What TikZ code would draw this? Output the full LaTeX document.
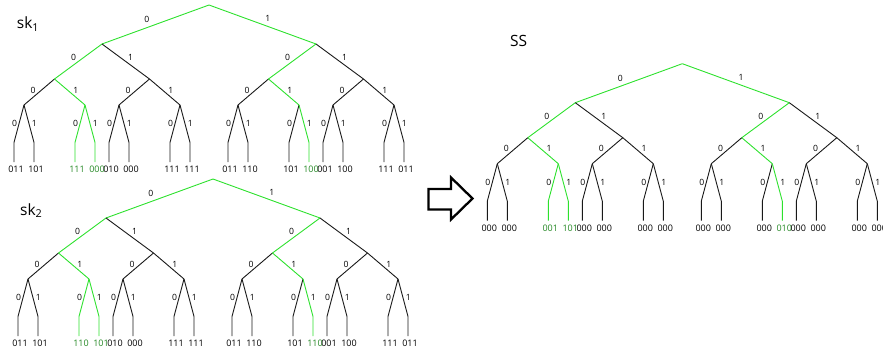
\documentclass[tikz,border=0pt]{standalone}
\usepackage{fontspec}
\setmainfont{Open Sans}
\usetikzlibrary{calc}
\definecolor{gl}{RGB}{45,225,45}
\definecolor{gt}{RGB}{35,135,35}
\definecolor{bl}{RGB}{25,25,25}
\tikzset{
  tl/.style={line width=0.9pt},
  elab/.style={font=\fontsize{8.6}{9}\selectfont,inner sep=1pt,text=black},
  leaflab/.style={font=\fontsize{9}{9}\selectfont,inner sep=0pt},
  title/.style={font=\fontsize{15.5}{18}\selectfont,inner sep=0pt,anchor=base west},
  arrowshape/.style={draw=black,line width=2.3pt,line join=miter},
}
\newcommand\treeframe[2]{%
  \coordinate (#1r) at (#2);
  \coordinate (#1A) at ($(#1r)+(-107,39)$);
  \coordinate (#1B) at ($(#1r)+(107,39)$);
  \coordinate (#1AA) at ($(#1A)+(-47.5,35)$);
  \coordinate (#1AB) at ($(#1A)+(47.5,35)$);
  \coordinate (#1BA) at ($(#1B)+(-47.5,35)$);
  \coordinate (#1BB) at ($(#1B)+(47.5,35)$);
  \foreach \p in {AA,AB,BA,BB}{
    \coordinate (#1\p A) at ($(#1\p)+(-30.5,26)$);
    \coordinate (#1\p B) at ($(#1\p)+(30.5,26)$);
  }
  % level 1
  \draw[tl,draw=gl] (#1r) -- node[elab,above=3.5pt,pos=.58](#1le0){0} (#1A);
  \draw[tl,draw=gl] (#1r) -- node[elab,above=3.5pt,pos=.55](#1le1){1} (#1B);
  % level 2
  \foreach \p/\ca/\cb in {A/gl/bl,B/gl/bl}{
    \draw[tl,draw=\ca] (#1\p) -- node[elab,above=3pt,pos=.6](#1\p e0){0} (#1\p A);
    \draw[tl,draw=\cb] (#1\p) -- node[elab,above=3pt,pos=.6](#1\p e1){1} (#1\p B);
  }
  % level 3
  \foreach \p/\ca/\cb in {AA/bl/gl,AB/bl/bl,BA/bl/gl,BB/bl/bl}{
    \draw[tl,draw=\ca] (#1\p) -- node[elab,above=2.5pt,pos=.7](#1\p e0){0} (#1\p A);
    \draw[tl,draw=\cb] (#1\p) -- node[elab,above=2.5pt,pos=.7](#1\p e1){1} (#1\p B);
  }
  % leaves
  \foreach \n/\ca/\cb in {AAA/bl/bl,AAB/gl/gl,ABA/bl/bl,ABB/bl/bl,BAA/bl/bl,BAB/bl/gl,BBA/bl/bl,BBB/bl/bl}{
    \coordinate (#1\n0m) at ($(#1\n)+(-10,37.5)$);
    \coordinate (#1\n0) at ($(#1\n)+(-10,57)$);
    \coordinate (#1\n1m) at ($(#1\n)+(10,37.5)$);
    \coordinate (#1\n1) at ($(#1\n)+(10,57)$);
    \draw[tl,draw=\ca] (#1\n) -- node[elab,left=0.5pt,pos=.5](#1\n e0){0} (#1\n0m) -- (#1\n0);
    \draw[tl,draw=\cb] (#1\n) -- node[elab,right=1.5pt,pos=.5](#1\n e1){1} (#1\n1m) -- (#1\n1);
  }
}
\newcommand\leaflabels[2]{%
  \foreach \n/\t/\c in {#2}{
    \node[leaflab,text=\c] (#1\n l) at ($(#1\n)+(2,7.5)$) {\t};
  }
}
\begin{document}
\begin{tikzpicture}[x=1pt,y=-1pt]
\useasboundingbox (0,0) rectangle (883,350);
% titles
\node[title] (tsk1) at (16.7,28.3) {sk\textsubscript{1}};
\node[title] (tsk2) at (20,215) {sk\textsubscript{2}};
\node[title] (tss) at (510,46.7) {SS};
% tree 1
\treeframe{p}{209,5}
\leaflabels{p}{AAA0/011/black,AAA1/101/black,AAB0/111/gt,AAB1/000/gt,ABA0/010/black,ABA1/000/black,ABB0/111/black,ABB1/111/black,BAA0/011/black,BAA1/110/black,BAB0/101/black,BAB1/100/gt,BBA0/001/black,BBA1/100/black,BBB0/111/black,BBB1/011/black}
% tree 2
\treeframe{q}{213,179}
\leaflabels{q}{AAA0/011/black,AAA1/101/black,AAB0/110/gt,AAB1/101/gt,ABA0/010/black,ABA1/000/black,ABB0/111/black,ABB1/111/black,BAA0/011/black,BAA1/110/black,BAB0/101/black,BAB1/110/gt,BBA0/001/black,BBA1/100/black,BBB0/111/black,BBB1/011/black}
% tree 3
\treeframe{s}{682.3,63.7}
\leaflabels{s}{AAA0/000/black,AAA1/000/black,AAB0/001/gt,AAB1/101/gt,ABA0/000/black,ABA1/000/black,ABB0/000/black,ABB1/000/black,BAA0/000/black,BAA1/000/black,BAB0/000/black,BAB1/010/gt,BBA0/000/black,BBA1/000/black,BBB0/000/black,BBB1/000/black}
% block arrow
\draw[arrowshape] (428.5,189) -- (451,189) -- (451,177.5) -- (472.5,198.5) -- (451,219.5) -- (451,209.5) -- (428.5,209.5) -- cycle;
\end{tikzpicture}
\end{document}
